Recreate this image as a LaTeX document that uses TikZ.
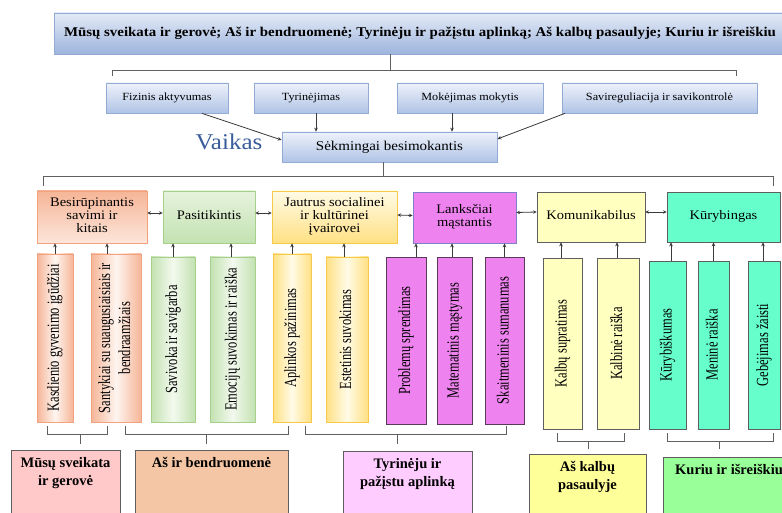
\documentclass[tikz,border=0pt]{standalone}
\usepackage{fontspec}
\setmainfont{Liberation Serif}
\usepackage{graphicx}
\usetikzlibrary{arrows.meta,shadows,calc}

\definecolor{bordblue}{HTML}{93AAD4}
\definecolor{blueTop}{HTML}{EEF2FA}
\definecolor{blueBot}{HTML}{AFC3E6}
\definecolor{banTop}{HTML}{E3EAF6}
\definecolor{banBot}{HTML}{9DB4DD}
\definecolor{linec}{HTML}{3A3A3A}
\definecolor{brkc}{HTML}{606060}
\definecolor{vaik}{HTML}{3A5D9C}
\definecolor{orTop}{HTML}{F6B597}
\definecolor{orBot}{HTML}{FCE6DA}
\definecolor{orBord}{HTML}{F2A27F}
\definecolor{grTop}{HTML}{E6F3DD}
\definecolor{grBot}{HTML}{C3E2B1}
\definecolor{grBord}{HTML}{A6CF8C}
\definecolor{yeTop}{HTML}{FFFBE6}
\definecolor{yeBot}{HTML}{FFE084}
\definecolor{yeBord}{HTML}{F6C94A}
\definecolor{violet}{HTML}{EE82EE}
\definecolor{violBord}{HTML}{8080C8}
\definecolor{violDark}{HTML}{5A3A5A}
\definecolor{paleyel}{HTML}{FFFFC0}
\definecolor{aqua}{HTML}{66FFCC}
\definecolor{darkb}{HTML}{5E5E5E}
\definecolor{mPink}{HTML}{FFC9C9}
\definecolor{mPeach}{HTML}{F5C6A5}
\definecolor{mLil}{HTML}{FFCCFF}
\definecolor{mYel}{HTML}{FFFF99}
\definecolor{mGreen}{HTML}{99FF99}

\newcommand\myhs[1]{\scalebox{1}[0.9]{\begin{tabular}{@{}c@{}}#1\end{tabular}}}
\newcommand\myvt[1]{\scalebox{1}[0.735]{\rotatebox{90}{\begin{tabular}{@{}c@{}}#1\end{tabular}}}}
\newcommand\mybt[1]{\begin{tabular}{@{}c@{}}#1\end{tabular}}
\newcommand\myfA{\fontsize{12.2}{14}\selectfont}
\newcommand\myfB{\fontsize{15}{17}\selectfont}
\newcommand\myfC{\fontsize{14.5}{14.5}\selectfont}
\newcommand\myfV{\fontsize{17}{20}\selectfont}
\newcommand\myfT{\bfseries\fontsize{14.9}{17}\selectfont}
\newcommand\myfD{\bfseries\fontsize{14.5}{18}\selectfont}

\tikzset{
  wh/.style 2 args={minimum width=#1pt, minimum height=#2pt},
  box/.style={draw, inner sep=0pt, line width=0.7pt},
  shad/.style={drop shadow={shadow xshift=1.2pt, shadow yshift=-1.2pt, opacity=0.3}},
  banbox/.style={box, draw=bordblue, top color=banTop, bottom color=banBot, shad, font=\myfT},
  bluebox/.style={box, draw=bordblue, top color=blueTop, bottom color=blueBot, shad, font=\myfA},
  sekbox/.style={box, draw=bordblue, top color=blueTop, bottom color=blueBot, shad, font=\myfB},
  orbox/.style={box, draw=orBord, top color=orTop, bottom color=orBot, shad, font=\myfC},
  grbox/.style={box, draw=grBord, top color=grTop, bottom color=grBot, shad, font=\myfC},
  yebox/.style={box, draw=yeBord, top color=yeTop, bottom color=yeBot, shad, font=\myfC},
  vibox/.style={box, draw=violBord, fill=violet, font=\myfC},
  pybox/.style={box, draw=darkb, fill=paleyel, font=\myfC},
  aqbox/.style={box, draw=darkb, fill=aqua, font=\myfC},
  vor/.style={box, draw=orBord, left color=orTop, right color=orTop, middle color=orBot!40!white, shad, font=\myfV},
  vgr/.style={box, draw=grBord, left color=grBot, right color=grBot, middle color=grTop!50!white, shad, font=\myfV},
  vye/.style={box, draw=yeBord, left color=yeBot, right color=yeBot, middle color=yeTop, shad, font=\myfV},
  vvi/.style={box, draw=violDark, fill=violet, font=\myfV},
  vpy/.style={box, draw=darkb, fill=paleyel, font=\myfV},
  vaq/.style={box, draw=darkb, fill=aqua, font=\myfV},
  mbox/.style={draw=darkb, line width=0.8pt, inner sep=0pt},
  mtxt/.style={font=\myfD, inner sep=0pt, anchor=north, yshift=-5pt},
  arr/.style={draw=linec, line width=0.8pt, -{Stealth[length=4pt,width=3.6pt]}},
  darr/.style={draw=linec, line width=0.8pt, {Stealth[length=3.6pt,width=3.4pt]}-{Stealth[length=3.6pt,width=3.4pt]}},
  brk/.style={draw=brkc, line width=0.8pt},
}

\begin{document}
\begin{tikzpicture}[x=1pt,y=-1pt]
\useasboundingbox (0,0) rectangle (782,513);
\fill[white] (0,0) rectangle (782,513);

% top banner
\node[banbox, wh={732}{41}] (banner) at (420,33.5) {\myhs{Mūsų sveikata ir gerovė; Aš ir bendruomenė; Tyrinėju ir pažįstu aplinką; Aš kalbų pasaulyje; Kuriu ir išreiškiu}};

% second row
\node[bluebox, wh={122}{30}] (fiz) at (167,98) {\myhs{Fizinis aktyvumas}};
\node[bluebox, wh={114}{30}] (tyr) at (311,98) {\myhs{Tyrinėjimas}};
\node[bluebox, wh={146}{30}] (mok) at (470,98) {\myhs{Mokėjimas mokytis}};
\node[bluebox, wh={195}{30}] (sav) at (659.5,98) {\myhs{Savireguliacija ir savikontrolė}};

\node[font=\fontsize{25}{28}\selectfont, text=vaik, inner sep=0pt] (vaikas) at (229,142) {\scalebox{1}[0.9]{Vaikas}};
\node[sekbox, wh={215}{30}] (sek) at (389.5,147) {\myhs{Sėkmingai besimokantis}};

% top bracket
\coordinate (tb) at (390,70);
\coordinate (tbl) at (112,70);
\coordinate (tbr) at (736,70);
\draw[brk] (banner.south -| tb) -- (tb);
\draw[brk] ($(tbl)+(0,6)$) -- (tbl) -- (tbr) -- ($(tbr)+(0,6)$);

% arrows to sek
\draw[arr] (fiz.south -| 202,0) -- (sek.west |- 0,140);
\draw[arr] (tyr.south -| 316,0) -- (sek.north -| 316,0);
\draw[arr] (mok.south -| 452,0) -- (sek.north -| 452,0);
\draw[arr] (sav.south -| 565,0) -- (sek.east |- 0,139);

% middle bracket
\coordinate (mb) at (383,176);
\coordinate (mbl) at (43,176);
\coordinate (mbr) at (773,176);
\draw[brk] (sek.south -| mb) -- (mb);
\draw[brk] ($(mbl)+(0,10)$) -- (mbl) -- (mbr) -- ($(mbr)+(0,10)$);

% third row
\node[orbox, wh={110}{52}] (b1) at (92,217) {\myhs{Besirūpinantis\\savimi ir\\kitais}};
\node[grbox, wh={92}{52}] (b2) at (209,217) {\myhs{Pasitikintis}};
\node[yebox, wh={125}{52}] (b3) at (334.5,217) {\myhs{Jautrus socialinei\\ir kultūrinei\\įvairovei}};
\node[vibox, wh={103}{51}] (b4) at (464.5,217.5) {\myhs{Lanksčiai\\mąstantis}};
\node[pybox, wh={108}{50}] (b5) at (591,217) {\myhs{Komunikabilus}};
\node[aqbox, wh={113}{50}] (b6) at (723.5,217) {\myhs{Kūrybingas}};

\draw[darr] ([yshift=4pt]b1.east) -- ([yshift=4pt]b2.west);
\draw[darr] ([yshift=4pt]b2.east) -- ([yshift=4pt]b3.west);
\draw[darr] ([yshift=2pt]b3.east) -- ([yshift=2pt]b4.west);
\draw[darr] ([yshift=5pt]b4.east) -- ([yshift=5pt]b5.west);
\draw[darr] ([yshift=5pt]b5.east) -- ([yshift=5pt]b6.west);

% vertical boxes
\node[vor, wh={36}{168}] (v1) at (55,338) {\myvt{Kasdienio gyvenimo įgūdžiai}};
\node[vor, wh={50}{168}] (v2) at (116,338) {\myvt{Santykiai su suaugusiaisiais ir\\bendraamžiais}};
\node[vgr, wh={44}{165}] (v3) at (173,339.5) {\myvt{Savivoka ir savigarba}};
\node[vgr, wh={45}{165}] (v4) at (232.5,339.5) {\myvt{Emocijų suvokimas ir raiška}};
\node[vye, wh={38}{168}] (v5) at (292,338) {\myvt{Aplinkos pažinimas}};
\node[vye, wh={42}{165}] (v6) at (347,339.5) {\myvt{Estetinis suvokimas}};
\node[vvi, wh={40}{167}] (v7) at (406,340.5) {\myvt{Problemų sprendimas}};
\node[vvi, wh={35}{167}] (v8) at (454.5,340.5) {\myvt{Matematinis mąstymas}};
\node[vvi, wh={39}{167}] (v9) at (504.5,340.5) {\myvt{Skaitmeninis sumanumas}};
\node[vpy, wh={39}{171}] (v10) at (562.5,343.5) {\myvt{Kalbų supratimas}};
\node[vpy, wh={42}{171}] (v11) at (618,343.5) {\myvt{Kalbinė raiška}};
\node[vaq, wh={37}{168}] (v12) at (667.5,345) {\myvt{Kūrybiškumas}};
\node[vaq, wh={31}{168}] (v13) at (713.5,345) {\myvt{Meninė raiška}};
\node[vaq, wh={32}{168}] (v14) at (764,345) {\myvt{Gebėjimas žaisti}};

% arrows up
\draw[arr] (v1.north) -- (b1.south -| v1.north);
\draw[arr] (v2.north -| 107,0) -- (b1.south -| 107,0);
\draw[arr] (v3.north) -- (b2.south -| v3.north);
\draw[arr] (v4.north -| 231,0) -- (b2.south -| 231,0);
\draw[arr] (v5.north) -- (b3.south -| v5.north);
\draw[arr] (v6.north -| 344,0) -- (b3.south -| 344,0);
\draw[arr] (v7.north -| 416,0) -- (b4.south -| 416,0);
\draw[arr] (v8.north -| 452,0) -- (b4.south -| 452,0);
\draw[arr] (v9.north) -- (b4.south -| v9.north);
\draw[arr] (v10.north -| 561,0) -- (b5.south -| 561,0);
\draw[arr] (v11.north -| 617,0) -- (b5.south -| 617,0);
\draw[arr] (v12.north -| 671,0) -- (b6.south -| 671,0);
\draw[arr] (v13.north) -- (b6.south -| v13.north);
\draw[arr] (v14.north -| 763,0) -- (b6.south -| 763,0);

% bottom boxes
\node[mbox, fill=mPink, wh={109}{75}, label={[mtxt]north:{\mybt{Mūsų sveikata\\ir gerovė}}}] (m1) at (65.5,487.5) {};
\node[mbox, fill=mPeach, wh={153}{75}, label={[mtxt]north:{\mybt{Aš ir bendruomenė}}}] (m2) at (211.5,487.5) {};
\node[mbox, fill=mLil, wh={129}{74}, label={[mtxt]north:{\mybt{Tyrinėju ir\\pažįstu aplinką}}}] (m3) at (407.5,488) {};
\node[mbox, fill=mYel, wh={117}{71}, label={[mtxt]north:{\mybt{Aš kalbų\\pasaulyje}}}] (m4) at (587.5,489.5) {};
\node[mbox, fill=mGreen, wh={132}{68}, label={[mtxt]north:{\mybt{Kuriu ir išreiškiu}}}] (m5) at (729,491) {};

% bottom brackets
\coordinate (k1) at (80,434);
\draw[brk] (47,426) -- (47,434) -- (107,434) -- (107,426);
\draw[brk] (k1) -- (k1 |- 0,444);
\coordinate (k2) at (206,434);
\draw[brk] (125,426) -- (125,434) -- (288,434) -- (288,426);
\draw[brk] (k2) -- (k2 |- 0,444);
\coordinate (k3) at (397,434);
\draw[brk] (305,426) -- (305,434) -- (506,434) -- (506,426);
\draw[brk] (k3) -- (k3 |- 0,444);
\coordinate (k4) at (588,441);
\draw[brk] (557,433) -- (557,441) -- (624,441) -- (624,433);
\draw[brk] (k4) -- (k4 |- 0,449);
\coordinate (k5) at (719,441);
\draw[brk] (667,433) -- (667,441) -- (773,441) -- (773,433);
\draw[brk] (k5) -- (k5 |- 0,449);
\end{tikzpicture}
\end{document}
